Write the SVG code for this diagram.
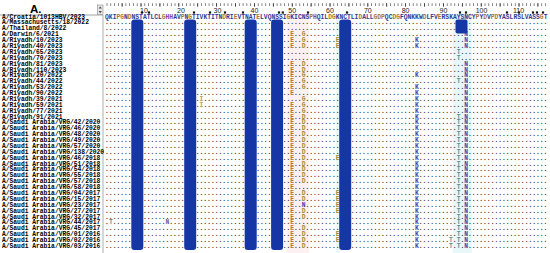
<svg xmlns="http://www.w3.org/2000/svg" width="550" height="253" viewBox="0 0 550 253">
<style>
.s{font-family:"Liberation Mono","DejaVu Sans Mono",monospace;font-size:6.3px;font-weight:bold}
.lb{fill:#000}
.dt{fill:#262626}
.ref{fill:#2c3a94}
.b{fill:#a8782c}
.h{fill:#8a3cb0}
.e{fill:#c0702a}
.g{fill:#a08c38}
.k{fill:#4a3aa8}
.t{fill:#5f8c8c}
.y{fill:#b0a040}
.n{fill:#6a5a8a}
.bar{fill:#1736a6}
.num{font-family:"Liberation Sans","DejaVu Sans",sans-serif;font-size:7px;fill:#222;text-anchor:middle}
.mk{fill:#111}
</style>
<rect width="550" height="253" fill="#fff"/>
<g id="tints">
<rect x="286.54" y="14" width="22.7" height="239" fill="#fdf0f3"/>
<rect x="335.68" y="14" width="3.78" height="239" fill="#e9f9f9"/>
<rect x="452.86" y="14" width="18.9" height="239" fill="#e8f8f8"/>
</g>
<g id="header">
<text x="30" y="13" font-family="Liberation Sans, Arial, sans-serif" font-size="11.5" font-weight="bold" fill="#000">A.</text>
<line x1="0" y1="15" x2="103" y2="15" stroke="#888" stroke-width="0.8"/>
<line x1="103" y1="15" x2="103" y2="253" stroke="#999" stroke-width="0.8"/>
<rect x="97.5" y="5" width="5.5" height="9.5" fill="#e6e6e6" stroke="#777" stroke-width="0.5"/>
<path d="M98.7 8.6 L100.25 6.4 L101.8 8.6 Z M98.7 11 L100.25 13.2 L101.8 11 Z" fill="#444"/>
</g>
<g id="ruler">
<path d="M106.65 4.6 H546" stroke="#555" stroke-width="2.6" stroke-dasharray="0.7 3.08"/>
<path d="M121.72 5 H546" stroke="#333" stroke-width="3.6" stroke-dasharray="0.8 18.1"/>
<text class="num" x="144" y="13.3">10</text>
<text class="num" x="181" y="13.3">20</text>
<text class="num" x="217.5" y="13.3">30</text>
<text class="num" x="254.4" y="13.3">40</text>
<text class="num" x="292.2" y="13.3">50</text>
<text class="num" x="330" y="13.3">60</text>
<text class="num" x="367.8" y="13.3">70</text>
<text class="num" x="405.6" y="13.3">80</text>
<text class="num" x="443.4" y="13.3">90</text>
<text class="num" x="481.5" y="13.3">100</text>
<text class="num" x="518.5" y="13.3">110</text>
<g class="mk">
<rect x="140.9" y="11.4" width="2.2" height="2.2"/>
<rect x="147.9" y="11.4" width="2.2" height="2.2"/>
<rect x="192.9" y="11.4" width="2.2" height="2.2"/>
<rect x="208.9" y="11.4" width="2.2" height="2.2"/>
<rect x="223.9" y="11.4" width="2.2" height="2.2"/>
<rect x="241.9" y="11.4" width="2.2" height="2.2"/>
<rect x="277.9" y="11.4" width="2.2" height="2.2"/>
<rect x="281.7" y="11.4" width="2.2" height="2.2"/>
<rect x="306.9" y="11.4" width="2.2" height="2.2"/>
<rect x="345.9" y="11.4" width="2.2" height="2.2"/>
<rect x="458.9" y="11.4" width="2.2" height="2.2"/>
<rect x="464.9" y="11.4" width="2.2" height="2.2"/>
<rect x="505.9" y="11.4" width="2.2" height="2.2"/>
<rect x="517.9" y="11.4" width="2.2" height="2.2"/>
<rect x="531.9" y="11.4" width="2.2" height="2.2"/>
<rect x="535.9" y="11.4" width="2.2" height="2.2"/>
<rect x="541.9" y="11.4" width="2.2" height="2.2"/>
</g>
</g>
<g id="alignment">
<g id="row-1"><text class="s lb" x="2" y="18.6">A/Croatia/1013HBV/2023</text><text class="s ref" x="105.1" y="18.6">QKI<tspan class="b">PG</tspan>N<tspan class="b">D</tspan>NSTATLCL<tspan class="b">G</tspan><tspan class="h">HH</tspan>AV<tspan class="b">P</tspan>N<tspan class="b">G</tspan>TIVKTITN<tspan class="b">D</tspan>RI<tspan class="b">E</tspan>VTNAT<tspan class="b">E</tspan>LVQNSSI<tspan class="b">G</tspan>KICNS<tspan class="b">P</tspan><tspan class="h">H</tspan>QIL<tspan class="b">D</tspan><tspan class="b">G</tspan>KNCTLI<tspan class="b">D</tspan>ALL<tspan class="b">GDP</tspan>QC<tspan class="b">DG</tspan>FQNKKW<tspan class="b">D</tspan>LFV<tspan class="b">E</tspan>RSKAYSNCY<tspan class="b">P</tspan>Y<tspan class="b">D</tspan>V<tspan class="b">PD</tspan>YASLRSLVASS<tspan class="b">G</tspan>T</text></g>
<g id="row-2"><text class="s lb" x="2" y="24.48">A/Massachusetts/18/2022</text><text class="s dt" x="105.1" y="24.48">.....................................................................................................................</text></g>
<g id="row-3"><text class="s lb" x="2" y="30.36">A/Thailand/8/2022</text><text class="s dt" x="105.1" y="30.36">.....................................................................................................................</text></g>
<g id="row-4"><text class="s lb" x="2" y="36.24">A/Darwin/6/2021</text><text class="s dt" x="105.1" y="36.24">.................................................<tspan x="290.32" class="e">E</tspan>..<tspan x="301.66" class="g">G</tspan>..........................................<tspan x="464.2" class="k">N</tspan>.....................</text></g>
<g id="row-5"><text class="s lb" x="2" y="42.12">A/Riyadh/10/2023</text><text class="s dt" x="105.1" y="42.12">.................................................<tspan x="290.32" class="e">E</tspan>..<tspan x="301.66" class="g">G</tspan>........<tspan x="335.68" class="g">E</tspan>....................<tspan x="415.06" class="k">K</tspan>............<tspan x="464.2" class="k">N</tspan>.....................</text></g>
<g id="row-6"><text class="s lb" x="2" y="48">A/Riyadh/40/2023</text><text class="s dt" x="105.1" y="48">.................................................<tspan x="290.32" class="e">E</tspan>..<tspan x="301.66" class="g">D</tspan>........<tspan x="335.68" class="g">E</tspan>....................<tspan x="415.06" class="k">K</tspan>............<tspan x="464.2" class="k">N</tspan>.....................</text></g>
<g id="row-7"><text class="s lb" x="2" y="53.88">A/Riyadh/65/2023</text><text class="s dt" x="105.1" y="53.88">.............................................................................................<tspan x="456.64" class="t">T</tspan>.......................</text></g>
<g id="row-8"><text class="s lb" x="2" y="59.76">A/Riyadh/70/2023</text><text class="s dt" x="105.1" y="59.76">.............................................................................................<tspan x="456.64" class="t">T</tspan>.......................</text></g>
<g id="row-9"><text class="s lb" x="2" y="65.64">A/Riyadh/81/2023</text><text class="s dt" x="105.1" y="65.64">.................................................<tspan x="290.32" class="e">E</tspan>..<tspan x="301.66" class="g">D</tspan>..........................................<tspan x="464.2" class="k">N</tspan>.....................</text></g>
<g id="row-10"><text class="s lb" x="2" y="71.52">A/Riyadh/110/2023</text><text class="s dt" x="105.1" y="71.52">.................................................<tspan x="290.32" class="e">E</tspan>..<tspan x="301.66" class="g">D</tspan>..........................................<tspan x="464.2" class="k">N</tspan>.....................</text></g>
<g id="row-11"><text class="s lb" x="2" y="77.4">A/Riyadh/20/2022</text><text class="s dt" x="105.1" y="77.4">.................................................<tspan x="290.32" class="e">E</tspan>..<tspan x="301.66" class="g">G</tspan>.............................<tspan x="415.06" class="k">K</tspan>............<tspan x="464.2" class="k">N</tspan>.....................</text></g>
<g id="row-12"><text class="s lb" x="2" y="83.28">A/Riyadh/44/2022</text><text class="s dt" x="105.1" y="83.28">.................................................<tspan x="290.32" class="e">E</tspan>..<tspan x="301.66" class="g">G</tspan>........................................<tspan x="456.64" class="t">T</tspan>.<tspan x="464.2" class="k">N</tspan>.....................</text></g>
<g id="row-13"><text class="s lb" x="2" y="89.16">A/Riyadh/53/2022</text><text class="s dt" x="105.1" y="89.16">.................................................<tspan x="290.32" class="e">E</tspan>..<tspan x="301.66" class="g">G</tspan>.............................<tspan x="415.06" class="k">K</tspan>............<tspan x="464.2" class="k">N</tspan>.....................</text></g>
<g id="row-14"><text class="s lb" x="2" y="95.04">A/Riyadh/90/2022</text><text class="s dt" x="105.1" y="95.04">.................................................<tspan x="290.32" class="e">E</tspan>................................<tspan x="415.06" class="k">K</tspan>............<tspan x="464.2" class="k">N</tspan>.....................</text></g>
<g id="row-15"><text class="s lb" x="2" y="100.92">A/Riyadh/39/2021</text><text class="s dt" x="105.1" y="100.92">.........................<tspan x="199.6" class="y">I</tspan>..........................<tspan x="301.66" class="g">G</tspan>.............................<tspan x="415.06" class="k">K</tspan>............<tspan x="464.2" class="k">N</tspan>.....................</text></g>
<g id="row-16"><text class="s lb" x="2" y="106.8">A/Riyadh/59/2021</text><text class="s dt" x="105.1" y="106.8">.........................<tspan x="199.6" class="y">I</tspan>.......................<tspan x="290.32" class="e">E</tspan>..<tspan x="301.66" class="g">G</tspan>.............................<tspan x="415.06" class="k">K</tspan>............<tspan x="464.2" class="k">N</tspan>.....................</text></g>
<g id="row-17"><text class="s lb" x="2" y="112.68">A/Riyadh/77/2021</text><text class="s dt" x="105.1" y="112.68">.................................................<tspan x="290.32" class="e">E</tspan>..<tspan x="301.66" class="g">G</tspan>.............................<tspan x="415.06" class="k">K</tspan>............<tspan x="464.2" class="k">N</tspan>.....................</text></g>
<g id="row-18"><text class="s lb" x="2" y="118.56">A/Riyadh/91/2021</text><text class="s dt" x="105.1" y="118.56">.................................................<tspan x="290.32" class="e">E</tspan>..<tspan x="301.66" class="g">D</tspan>.............................<tspan x="415.06" class="k">K</tspan>..........<tspan x="456.64" class="t">T</tspan>.<tspan x="464.2" class="k">N</tspan>.....................</text></g>
<g id="row-19"><text class="s lb" x="2" y="124.44">A/Saudi Arabia/VRG/42/2020</text><text class="s dt" x="105.1" y="124.44">.................................................<tspan x="290.32" class="e">E</tspan>..<tspan x="301.66" class="g">D</tspan>.............................<tspan x="415.06" class="k">K</tspan>..........<tspan x="456.64" class="t">T</tspan>.<tspan x="464.2" class="k">N</tspan>.....................</text></g>
<g id="row-20"><text class="s lb" x="2" y="130.32">A/Saudi Arabia/VRG/46/2020</text><text class="s dt" x="105.1" y="130.32">.................................................<tspan x="290.32" class="e">E</tspan>..<tspan x="301.66" class="g">D</tspan>.............................<tspan x="415.06" class="k">K</tspan>..........<tspan x="456.64" class="t">T</tspan>.<tspan x="464.2" class="k">N</tspan>.....................</text></g>
<g id="row-21"><text class="s lb" x="2" y="136.2">A/Saudi Arabia/VRG/48/2020</text><text class="s dt" x="105.1" y="136.2">.................................................<tspan x="290.32" class="e">E</tspan>..<tspan x="301.66" class="g">D</tspan>.............................<tspan x="415.06" class="k">K</tspan>..........<tspan x="456.64" class="t">T</tspan>.<tspan x="464.2" class="k">N</tspan>.....................</text></g>
<g id="row-22"><text class="s lb" x="2" y="142.08">A/Saudi Arabia/VRG/49/2020</text><text class="s dt" x="105.1" y="142.08">.................................................<tspan x="290.32" class="e">E</tspan>..<tspan x="301.66" class="g">D</tspan>.............................<tspan x="415.06" class="k">K</tspan>..........<tspan x="456.64" class="t">T</tspan>.<tspan x="464.2" class="k">N</tspan>.....................</text></g>
<g id="row-23"><text class="s lb" x="2" y="147.96">A/Saudi Arabia/VRG/57/2020</text><text class="s dt" x="105.1" y="147.96">.................................................<tspan x="290.32" class="e">E</tspan>..<tspan x="301.66" class="g">D</tspan>.............................<tspan x="415.06" class="k">K</tspan>..........<tspan x="456.64" class="t">T</tspan>.<tspan x="464.2" class="k">N</tspan>.....................</text></g>
<g id="row-24"><text class="s lb" x="2" y="153.84">A/Saudi Arabia/VRG/138/2020</text><text class="s dt" x="105.1" y="153.84">.................................................<tspan x="290.32" class="e">E</tspan>..<tspan x="301.66" class="g">D</tspan>.............................<tspan x="415.06" class="k">K</tspan>..........<tspan x="456.64" class="t">T</tspan>.<tspan x="464.2" class="k">N</tspan>.....................</text></g>
<g id="row-25"><text class="s lb" x="2" y="159.72">A/Saudi Arabia/VRG/46/2018</text><text class="s dt" x="105.1" y="159.72">.................................................<tspan x="290.32" class="e">E</tspan>..<tspan x="301.66" class="g">D</tspan>........<tspan x="335.68" class="g">E</tspan>....................<tspan x="415.06" class="k">K</tspan>..........<tspan x="456.64" class="t">T</tspan>.<tspan x="464.2" class="k">N</tspan>.....................</text></g>
<g id="row-26"><text class="s lb" x="2" y="165.6">A/Saudi Arabia/VRG/51/2018</text><text class="s dt" x="105.1" y="165.6">.................................................<tspan x="290.32" class="e">E</tspan>..<tspan x="301.66" class="g">D</tspan>.............................<tspan x="415.06" class="k">K</tspan>..........<tspan x="456.64" class="t">T</tspan>.<tspan x="464.2" class="k">N</tspan>.....................</text></g>
<g id="row-27"><text class="s lb" x="2" y="171.48">A/Saudi Arabia/VRG/54/2018</text><text class="s dt" x="105.1" y="171.48">.................................................<tspan x="290.32" class="e">E</tspan>..<tspan x="301.66" class="g">D</tspan>.............................<tspan x="415.06" class="k">K</tspan>..........<tspan x="456.64" class="t">T</tspan>.<tspan x="464.2" class="k">N</tspan>.....................</text></g>
<g id="row-28"><text class="s lb" x="2" y="177.36">A/Saudi Arabia/VRG/55/2018</text><text class="s dt" x="105.1" y="177.36">.................................................<tspan x="290.32" class="e">E</tspan>..<tspan x="301.66" class="g">D</tspan>.............................<tspan x="415.06" class="k">K</tspan>..........<tspan x="456.64" class="t">T</tspan>.<tspan x="464.2" class="k">N</tspan>.....................</text></g>
<g id="row-29"><text class="s lb" x="2" y="183.24">A/Saudi Arabia/VRG/57/2018</text><text class="s dt" x="105.1" y="183.24">.................................................<tspan x="290.32" class="e">E</tspan>..<tspan x="301.66" class="g">D</tspan>.............................<tspan x="415.06" class="k">K</tspan>..........<tspan x="456.64" class="t">T</tspan>.<tspan x="464.2" class="k">N</tspan>.....................</text></g>
<g id="row-30"><text class="s lb" x="2" y="189.12">A/Saudi Arabia/VRG/58/2018</text><text class="s dt" x="105.1" y="189.12">.................................................<tspan x="290.32" class="e">E</tspan>................................<tspan x="415.06" class="k">K</tspan>..........<tspan x="456.64" class="t">T</tspan>.<tspan x="464.2" class="k">N</tspan>.....................</text></g>
<g id="row-31"><text class="s lb" x="2" y="195">A/Saudi Arabia/VRG/04/2017</text><text class="s dt" x="105.1" y="195">.................................................<tspan x="290.32" class="e">E</tspan>..<tspan x="301.66" class="g">D</tspan>........<tspan x="335.68" class="g">E</tspan>....................<tspan x="415.06" class="k">K</tspan>..........<tspan x="456.64" class="t">T</tspan>.<tspan x="464.2" class="k">N</tspan>.....................</text></g>
<g id="row-32"><text class="s lb" x="2" y="200.88">A/Saudi Arabia/VRG/15/2017</text><text class="s dt" x="105.1" y="200.88">.................................................<tspan x="290.32" class="e">E</tspan>..<tspan x="301.66" class="g">D</tspan>........<tspan x="335.68" class="g">E</tspan>....................<tspan x="415.06" class="k">K</tspan>..........<tspan x="456.64" class="t">T</tspan>.<tspan x="464.2" class="k">N</tspan>.....................</text></g>
<g id="row-33"><text class="s lb" x="2" y="206.76">A/Saudi Arabia/VRG/23/2017</text><text class="s dt" x="105.1" y="206.76">.................................................<tspan x="290.32" class="e">E</tspan>..<tspan x="301.66" class="k">N</tspan>........<tspan x="335.68" class="g">E</tspan>....................<tspan x="415.06" class="k">K</tspan>..........<tspan x="456.64" class="t">T</tspan>.<tspan x="464.2" class="k">N</tspan>.....................</text></g>
<g id="row-34"><text class="s lb" x="2" y="212.64">A/Saudi Arabia/VRG/27/2017</text><text class="s dt" x="105.1" y="212.64">.................................................<tspan x="290.32" class="e">E</tspan>..<tspan x="301.66" class="g">D</tspan>........<tspan x="335.68" class="g">E</tspan>....................<tspan x="415.06" class="k">K</tspan>..........<tspan x="456.64" class="t">T</tspan>.<tspan x="464.2" class="k">N</tspan>.....................</text></g>
<g id="row-35"><text class="s lb" x="2" y="218.52">A/Saudi Arabia/VRG/32/2017</text><text class="s dt" x="105.1" y="218.52">.................................................<tspan x="290.32" class="e">E</tspan>..<tspan x="301.66" class="g">D</tspan>.............................<tspan x="415.06" class="k">K</tspan>..........<tspan x="456.64" class="t">T</tspan>.<tspan x="464.2" class="k">N</tspan>.....................</text></g>
<g id="row-36"><text class="s lb" x="2" y="224.4">A/Saudi Arabia/VRG/44/2017</text><text class="s dt" x="105.1" y="224.4">.<tspan x="108.88" class="t">T</tspan>..............<tspan x="165.58" class="n">N</tspan>................................<tspan x="290.32" class="e">E</tspan>................................<tspan x="415.06" class="k">K</tspan>..........<tspan x="456.64" class="t">T</tspan>.<tspan x="464.2" class="k">N</tspan>.....................</text></g>
<g id="row-37"><text class="s lb" x="2" y="230.28">A/Saudi Arabia/VRG/45/2017</text><text class="s dt" x="105.1" y="230.28">.................................................<tspan x="290.32" class="e">E</tspan>..<tspan x="301.66" class="g">D</tspan>.............................<tspan x="415.06" class="k">K</tspan>..........<tspan x="456.64" class="t">T</tspan>.<tspan x="464.2" class="k">N</tspan>.....................</text></g>
<g id="row-38"><text class="s lb" x="2" y="236.16">A/Saudi Arabia/VRG/01/2016</text><text class="s dt" x="105.1" y="236.16">.................................................<tspan x="290.32" class="e">E</tspan>..<tspan x="301.66" class="g">D</tspan>........<tspan x="335.68" class="g">E</tspan>....................<tspan x="415.06" class="k">K</tspan>..........<tspan x="456.64" class="t">T</tspan>.<tspan x="464.2" class="k">N</tspan>.....................</text></g>
<g id="row-39"><text class="s lb" x="2" y="242.04">A/Saudi Arabia/VRG/02/2016</text><text class="s dt" x="105.1" y="242.04">.................................................<tspan x="290.32" class="e">E</tspan>..<tspan x="301.66" class="g">D</tspan>........<tspan x="335.68" class="g">E</tspan>....................<tspan x="415.06" class="k">K</tspan>........<tspan x="449.08" class="t">T</tspan>.<tspan x="456.64" class="t">T</tspan>.<tspan x="464.2" class="k">N</tspan>.....................</text></g>
<g id="row-40"><text class="s lb" x="2" y="247.92">A/Saudi Arabia/VRG/03/2016</text><text class="s dt" x="105.1" y="247.92">.................................................<tspan x="290.32" class="e">E</tspan>..<tspan x="301.66" class="g">D</tspan>.............................<tspan x="415.06" class="k">K</tspan>........<tspan x="449.08" class="t">T</tspan>.<tspan x="456.64" class="t">T</tspan>.<tspan x="464.2" class="k">N</tspan>.....................</text></g>
</g>
<g id="glycosylation-sites">
<rect class="bar" x="131.3" y="19.5" width="12" height="230.5" rx="3"/>
<rect class="bar" x="184.2" y="19.5" width="12" height="230.5" rx="3"/>
<rect class="bar" x="244.7" y="19.5" width="12" height="230.5" rx="3"/>
<rect class="bar" x="271.1" y="19.5" width="12" height="230.5" rx="3"/>
<rect class="bar" x="339.2" y="19.5" width="12" height="230.5" rx="3"/>
<rect class="bar" x="455.5" y="19.5" width="12" height="14" rx="2"/>
</g>
</svg>
